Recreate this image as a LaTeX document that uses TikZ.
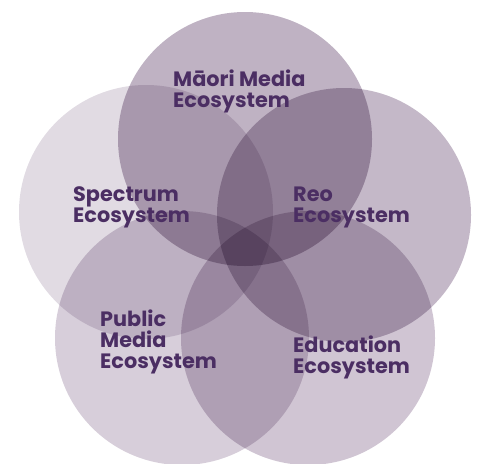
\documentclass[tikz,border=0pt]{standalone}
\usepackage{fontspec}
\setmainfont{Poppins}
\definecolor{ecoText}{HTML}{4B2E63}
\definecolor{maoriFill}{HTML}{BFB2C3}
\definecolor{spectrumFill}{HTML}{E1DBE3}
\definecolor{reoFill}{HTML}{C4B8C8}
\definecolor{publicFill}{HTML}{D7CEDA}
\definecolor{educationFill}{HTML}{D0C5D3}
\begin{document}
\begin{tikzpicture}[x=1pt,y=-1pt,
    eco/.style={anchor=base west, align=left, inner sep=0pt, text=ecoText,
        font=\bfseries\fontsize{20.8}{21}\selectfont}]
    \useasboundingbox (0,0) rectangle (478,463);
    % Five ecosystems round a pentagon
    \coordinate (maori) at (245,139); \coordinate (spectrum) at (146,212);
    \coordinate (reo) at (344,215);
    \coordinate (public) at (182,338); \coordinate (education) at (308,338);
    \begin{scope}[blend mode=multiply]
        \foreach \p in {maori,spectrum,reo,public,education}
            \fill[\p Fill] (\p) circle (127pt);
    \end{scope}

    % labels, placed at the baseline of their last line
    \node[eco] (maoriText) at (173,107) {Māori Media\\Ecosystem};
    \node[eco] (spectrumText) at (73,222) {Spectrum\\Ecosystem};
    \node[eco] (reoText) at (293,222) {Reo\\Ecosystem};
    \node[eco] (publicText) at (100,368) {Public\\Media\\Ecosystem};
    \node[eco] (educationText) at (293,373) {Education\\Ecosystem};
\end{tikzpicture}
\end{document}
